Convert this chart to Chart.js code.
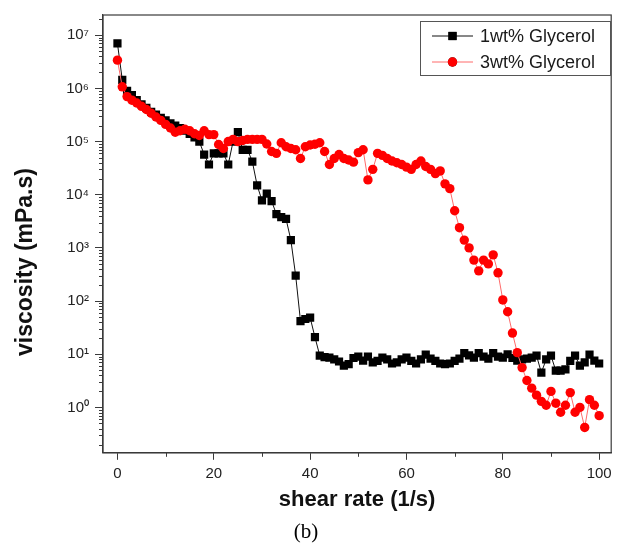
<!DOCTYPE html>
<html>
<head>
<meta charset="utf-8">
<script src="https://cdn.jsdelivr.net/npm/chart.js@4.4.1/dist/chart.umd.min.js"></script>
<style>
html, body { margin: 0; padding: 0; background: #fff; }
</style>
</head>
<body>
<canvas id="chart" width="617" height="549"></canvas>
<script>
// shear rate (1/s), one reading per step
var shearRate = [0, 1, 2, 3, 4, 5, 6, 7, 8, 9, 10, 11, 12, 13, 14, 15, 16, 17, 18, 19, 20,
	21, 22, 23, 24, 25, 26, 27, 28, 29, 30, 31, 32, 33, 34, 35, 36, 37, 38, 39, 40,
	41, 42, 43, 44, 45, 46, 47, 48, 49, 50, 51, 52, 53, 54, 55, 56, 57, 58, 59, 60,
	61, 62, 63, 64, 65, 66, 67, 68, 69, 70, 71, 72, 73, 74, 75, 76, 77, 78, 79, 80,
	81, 82, 83, 84, 85, 86, 87, 88, 89, 90, 91, 92, 93, 94, 95, 96, 97, 98, 99, 100];

// viscosity (mPa.s), 1wt% Glycerol
var visc1 = [7e6, 1.45e6, 9e5, 7.5e5, 6e5, 5e5, 4.3e5, 3.6e5, 3.2e5, 2.8e5,
	2.5e5, 2.2e5, 2.0e5, 1.8e5, 1.6e5, 1.4e5, 1.2e5, 1.0e5, 5.7e4, 3.7e4,
	6e4, 6e4, 6e4, 3.7e4, 1e5, 1.5e5, 7e4, 7e4, 4.2e4, 1.5e4,
	7.8e3, 1.05e4, 7.6e3, 4.3e3, 3.8e3, 3.5e3, 1.4e3, 300, 42, 46,
	49, 21, 9.4, 8.8, 8.6, 8, 7.3, 6.1, 6.5, 8.5,
	9, 7.6, 9, 7, 7.5, 8.6, 8, 6.7, 7, 8,
	8.6, 7.5, 6.7, 8, 9.8, 8.3, 7.5, 6.7, 6.5, 6.7,
	7.5, 8.3, 10.5, 9.5, 8.6, 10.5, 9, 8.3, 10.5, 9,
	8.6, 10, 8.5, 7.6, 8, 8.3, 8.6, 9.4, 4.5, 8,
	9.4, 4.9, 4.9, 5.2, 7.5, 9.4, 6.1, 7, 9.8, 7.6, 6.7];

// viscosity (mPa.s), 3wt% Glycerol
var visc3 = [3.4e6, 1.07e6, 7e5, 6e5, 5.3e5, 4.6e5, 4e5, 3.4e5, 2.9e5, 2.5e5,
	2.1e5, 1.8e5, 1.5e5, 1.6e5, 1.7e5, 1.6e5, 1.4e5, 1.3e5, 1.6e5, 1.35e5,
	1.35e5, 8.8e4, 7.4e4, 1e5, 1.1e5, 1e5, 1.05e5, 1.1e5, 1.1e5, 1.1e5,
	1.1e5, 9e4, 6.5e4, 6e4, 9.5e4, 8e4, 7.4e4, 7e4, 4.8e4, 8e4,
	8.6e4, 8.9e4, 9.5e4, 6.5e4, 3.7e4, 4.8e4, 5.7e4, 4.8e4, 4.5e4, 4.1e4,
	6.2e4, 7e4, 1.9e4, 3e4, 6e4, 5.5e4, 4.8e4, 4.3e4, 4e4, 3.7e4,
	3.3e4, 3e4, 3.7e4, 4.3e4, 3.4e4, 3e4, 2.5e4, 2.8e4, 1.6e4, 1.3e4,
	5e3, 2.4e3, 1.4e3, 1e3, 590, 370, 590, 500, 740, 340,
	105, 63, 25, 10.7, 5.6, 3.2, 2.3, 1.7, 1.3, 1.1,
	2, 1.2, 0.81, 1.1, 1.9, 0.81, 1.0, 0.42, 1.4, 1.1, 0.7];

var xTicks = [0, 20, 40, 60, 80, 100];
var yTicks = [1, 10, 100, 1e3, 1e4, 1e5, 1e6, 1e7];
var seriesNames = ['1wt% Glycerol', '3wt% Glycerol'];

var sup = {'0': '\u2070', '1': '\u00B9', '2': '\u00B2', '3': '\u00B3', '4': '\u2074',
	'5': '\u2075', '6': '\u2076', '7': '\u2077', '8': '\u2078', '9': '\u2079', '-': '\u207B'};

function pts(ys) {
	return shearRate.map(function (x, i) { return {x: x, y: ys[i]}; });
}

var frameColor = '#3a3a3a';
var sans = "'Liberation Sans', Arial, sans-serif";

// box round the plot, short minor ticks and the y title
var framePlugin = {
	id: 'frame',
	afterDraw: function (c) {
		var ctx = c.ctx, a = c.chartArea, xs = c.scales.x, ys = c.scales.y;
		ctx.save();
		ctx.strokeStyle = frameColor;
		ctx.lineWidth = 1.2;
		ctx.strokeRect(a.left, a.top, a.right - a.left, a.bottom - a.top);
		ctx.lineWidth = 1;
		ctx.beginPath();
		for (var e = -1; e <= 7; e++) {
			for (var m = 2; m <= 9; m++) {
				var v = m * Math.pow(10, e);
				if (v < ys.min || v > ys.max) continue;
				var py = Math.round(ys.getPixelForValue(v)) + 0.5;
				ctx.moveTo(a.left - 4, py);
				ctx.lineTo(a.left, py);
			}
		}
		for (var t = 10; t < 100; t += 20) {
			var px = Math.round(xs.getPixelForValue(t)) + 0.5;
			ctx.moveTo(px, a.bottom);
			ctx.lineTo(px, a.bottom + 4);
		}
		ctx.stroke();

		ctx.translate(26, 262);
		ctx.rotate(-Math.PI / 2);
		ctx.fillStyle = '#111';
		ctx.font = 'bold 23px ' + sans;
		ctx.textAlign = 'center';
		ctx.textBaseline = 'middle';
		ctx.fillText('viscosity (mPa.s)', 0, 0);
		ctx.restore();
	}
};

// legend box with line + marker samples
var legendPlugin = {
	id: 'boxLegend',
	afterDraw: function (c) {
		var ctx = c.ctx;
		ctx.save();
		ctx.strokeStyle = '#555';
		ctx.lineWidth = 1;
		ctx.strokeRect(420.5, 21.5, 190, 54);
		ctx.font = '18px ' + sans;
		ctx.textBaseline = 'middle';
		c.data.datasets.forEach(function (ds, i) {
			var y = 36 + i * 26;
			ctx.strokeStyle = ds.borderColor;
			ctx.lineWidth = 1;
			ctx.beginPath();
			ctx.moveTo(432, y);
			ctx.lineTo(473, y);
			ctx.stroke();
			Chart.helpers.drawPoint(ctx, {
				pointStyle: ds.pointStyle,
				radius: ds.pointRadius,
				borderWidth: 0,
				rotation: 0
			}, 452.5, y);
			ctx.fillStyle = ds.pointBackgroundColor;
			ctx.fill();
			ctx.fillStyle = '#1a1a1a';
			ctx.fillText(ds.label, 480, y + 1);
		});
		ctx.restore();
	}
};

var chart = new Chart(document.getElementById('chart').getContext('2d'), {
	type: 'line',
	data: {
		datasets: [{
			label: seriesNames[0],
			data: pts(visc1),
			borderColor: '#111',
			borderWidth: 1,
			pointStyle: 'rect',
			pointRadius: 5.8,
			pointBackgroundColor: '#000',
			pointBorderWidth: 0,
			order: 1
		}, {
			label: seriesNames[1],
			data: pts(visc3),
			borderColor: '#ff6a6a',
			borderWidth: 1,
			pointStyle: 'circle',
			pointRadius: 4.7,
			pointBackgroundColor: '#ff0000',
			pointBorderWidth: 0,
			order: 0
		}]
	},
	options: {
		responsive: false,
		animation: false,
		layout: {padding: {top: 13, right: 5, left: 0, bottom: 0}},
		plugins: {
			legend: {display: false},
			tooltip: {enabled: false},
			title: {
				display: true,
				position: 'bottom',
				text: '(b)',
				color: '#000',
				font: {family: "'Liberation Serif', 'Times New Roman', serif", size: 21, weight: 'normal'},
				padding: {top: 0, bottom: 4}
			}
		},
		scales: {
			x: {
				type: 'linear',
				min: -3,
				max: 102.5,
				afterBuildTicks: function (s) { s.ticks = xTicks.map(function (v) { return {value: v}; }); },
				afterFit: function (s) { s.height = 67; },
				grid: {display: true, drawOnChartArea: false, drawTicks: true, tickLength: 7, color: frameColor},
				border: {display: true, color: frameColor, width: 1.2},
				ticks: {color: '#222', font: {family: sans, size: 15}, padding: 5, maxRotation: 0},
				title: {
					display: true,
					text: 'shear rate (1/s)',
					color: '#111',
					font: {family: sans, size: 22, weight: 'bold'},
					padding: {top: 4, bottom: 7}
				}
			},
			y: {
				type: 'logarithmic',
				min: 0.14,
				max: 2.4e7,
				afterBuildTicks: function (s) { s.ticks = yTicks.map(function (v) { return {value: v}; }); },
				afterFit: function (s) { s.width = 103; },
				grid: {display: true, drawOnChartArea: false, drawTicks: true, tickLength: 8, color: frameColor},
				border: {display: true, color: frameColor, width: 1.2},
				ticks: {
					color: '#222',
					font: {family: sans, size: 15},
					padding: 6,
					autoSkip: false,
					callback: function (v) {
						var e = Math.round(Math.log10(v));
						return '10' + String(e).split('').map(function (ch) { return sup[ch]; }).join('');
					}
				}
			}
		}
	},
	plugins: [framePlugin, legendPlugin]
});
</script>
</body>
</html>
